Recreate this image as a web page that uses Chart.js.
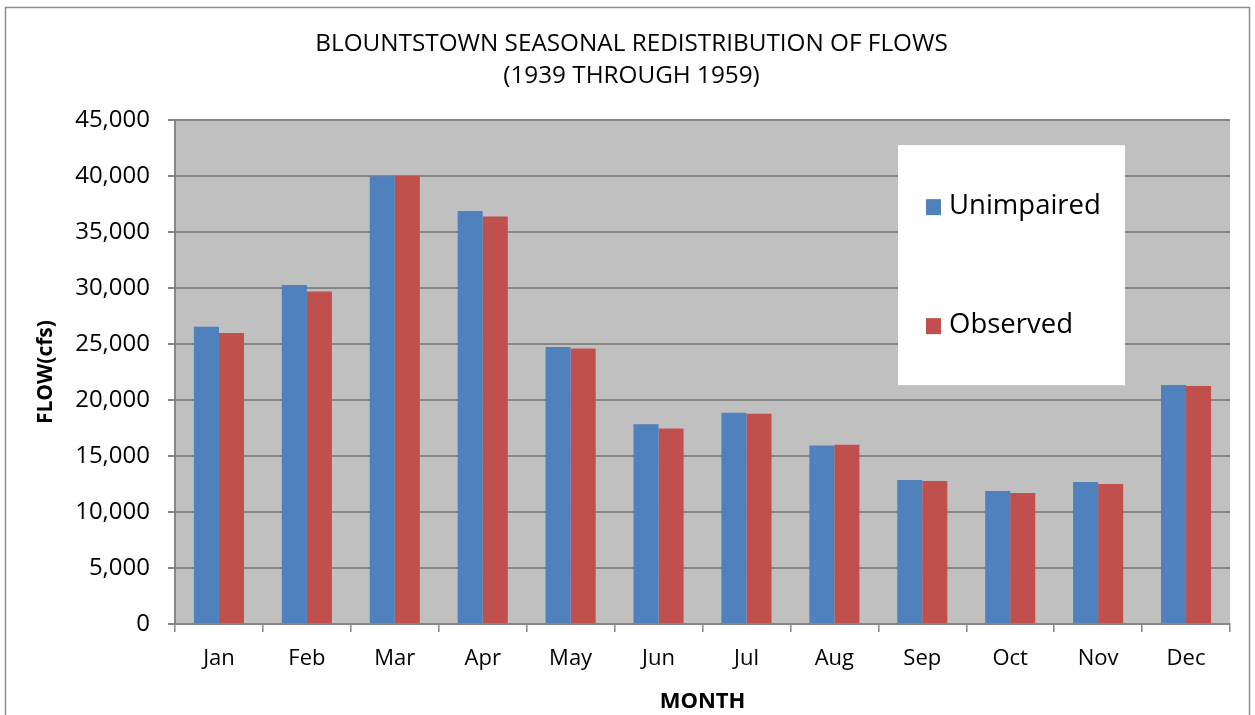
<!DOCTYPE html>
<html>
<head>
<meta charset="utf-8">
<script src="https://cdn.jsdelivr.net/npm/chart.js@4.4.1/dist/chart.umd.min.js"></script>
<style>
  html, body { margin: 0; padding: 0; background: #fff; }
  #wrap { width: 1255px; height: 715px; }
</style>
</head>
<body>
<div id="wrap"><canvas id="flowChart" width="1255" height="715"></canvas></div>
<script>
const months = ['Jan', 'Feb', 'Mar', 'Apr', 'May', 'Jun', 'Jul', 'Aug', 'Sep', 'Oct', 'Nov', 'Dec'];
const unimpaired = [26550, 30270, 40000, 36880, 24730, 17830, 18870, 15950, 12860, 11880, 12680, 21340];
const observed = [26000, 29700, 40030, 36400, 24600, 17470, 18780, 16010, 12770, 11700, 12500, 21250];
const titleLines = ['BLOUNTSTOWN SEASONAL REDISTRIBUTION OF FLOWS', '(1939 THROUGH 1959)'];

const FONT = "'Open Sans', 'Noto Sans', sans-serif";

// grey plot background + outer frame
const backdrop = {
    id: 'backdrop',
    beforeDraw(chart) {
        const { ctx, chartArea: a } = chart;
        ctx.save();
        ctx.fillStyle = '#fff';
        ctx.fillRect(0, 0, chart.width, chart.height);
        ctx.fillStyle = '#c0c0c0';
        ctx.fillRect(a.left, a.top, a.right - a.left, a.bottom - a.top);
        ctx.strokeStyle = '#8c8c8c';
        ctx.lineWidth = 1.5;
        ctx.strokeRect(5.5, 7.5, chart.width - 11, chart.height + 20);
        ctx.restore();
    }
};

// white legend box inside the plot, like the original
const boxLegend = {
    id: 'boxLegend',
    afterDatasetsDraw(chart) {
        const { ctx, chartArea: a } = chart;
        const x = a.left + 723, y = a.top + 25, w = 227, h = 240;
        ctx.save();
        ctx.fillStyle = '#fff';
        ctx.fillRect(x, y, w, h);
        ctx.font = '27.5px ' + FONT;
        ctx.textBaseline = 'middle';
        chart.data.datasets.forEach((ds, i) => {
            const cy = y + 61 + i * 119;
            ctx.fillStyle = ds.backgroundColor;
            ctx.fillRect(x + 28, cy - 7, 15, 16);
            ctx.fillStyle = '#000';
            ctx.fillText(ds.label, x + 51, cy);
        });
        ctx.restore();
    }
};

new Chart(document.getElementById('flowChart').getContext('2d'), {
    type: 'bar',
    data: {
        labels: months,
        datasets: [
            { label: 'Unimpaired', data: unimpaired, backgroundColor: '#4f81bd' },
            { label: 'Observed', data: observed, backgroundColor: '#c0504d' }
        ]
    },
    options: {
        responsive: false,
        animation: false,
        layout: { padding: { left: 33, right: 25, top: 0, bottom: 0 } },
        datasets: { bar: { categoryPercentage: 0.57, barPercentage: 1.0 } },
        plugins: {
            legend: { display: false },
            tooltip: { enabled: false },
            title: {
                display: true,
                text: titleLines,
                color: '#000',
                font: { family: FONT, size: 24.3, weight: 'normal', lineHeight: 1.32 },
                padding: { top: 28, bottom: 28 }
            }
        },
        scales: {
            x: {
                offset: true,
                grid: { offset: true, drawOnChartArea: false, drawTicks: true, tickLength: 8, color: '#868686', lineWidth: 1.5 },
                border: { color: '#868686', width: 2 },
                ticks: { color: '#000', font: { family: FONT, size: 22 }, padding: 14 },
                title: { display: true, text: 'MONTH', color: '#000', font: { family: FONT, size: 22, weight: 'bold' }, padding: { top: 0, bottom: 0 } },
                afterFit(scale) { scale.height = 91; }
            },
            y: {
                min: 0,
                max: 45000,
                grid: { color: '#868686', lineWidth: 2, tickLength: 7 },
                border: { color: '#868686', width: 2 },
                ticks: {
                    stepSize: 5000,
                    color: '#000',
                    font: { family: FONT, size: 24 },
                    padding: 18,
                    callback: v => v.toLocaleString('en-US')
                },
                title: { display: true, text: 'FLOW(cfs)', color: '#000', font: { family: FONT, size: 21, weight: 'bold' }, padding: { top: 0, bottom: 0 } },
                afterFit(scale) { scale.width = 142; }
            }
        }
    },
    plugins: [backdrop, boxLegend]
});
</script>
</body>
</html>
